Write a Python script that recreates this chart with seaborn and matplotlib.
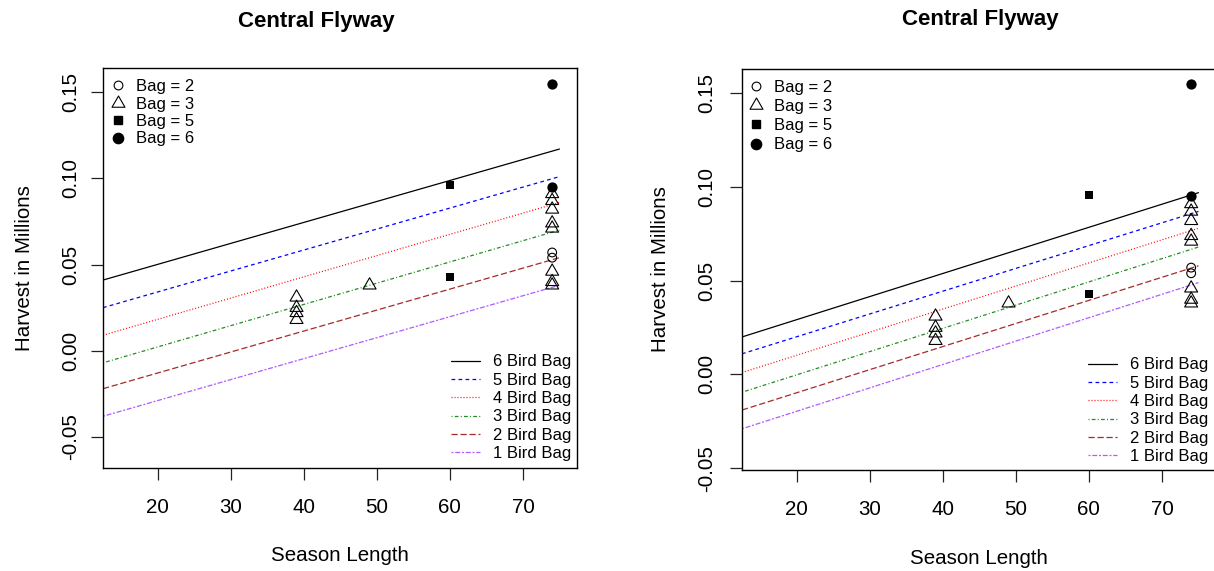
import numpy as np
import pandas as pd
import matplotlib
matplotlib.use("Agg")
import matplotlib.pyplot as plt
import seaborn as sns
from matplotlib.lines import Line2D
from matplotlib.path import Path

# ---------------- data ----------------
season_bag2 = [74, 74]
harvest_bag2 = [0.057, 0.054]
season_bag3 = [39, 39, 39, 39, 49, 74, 74, 74, 74, 74, 74, 74, 74]
harvest_bag3 = [0.031, 0.025, 0.022, 0.018, 0.038, 0.091, 0.087, 0.082,
                0.074, 0.071, 0.046, 0.040, 0.038]
season_bag5 = [60, 60]
harvest_bag5 = [0.096, 0.043]
season_bag6 = [74, 74]
harvest_bag6 = [0.155, 0.095]
point_labels = ["Bag = 2", "Bag = 3", "Bag = 5", "Bag = 6"]

line_labels = ["6 Bird Bag", "5 Bird Bag", "4 Bird Bag",
               "3 Bird Bag", "2 Bird Bag", "1 Bird Bag"]
line_season = [12.5, 75]
left_start = [0.041, 0.025, 0.009, -0.007, -0.022, -0.038]
left_end = [0.117, 0.101, 0.086, 0.070, 0.054, 0.038]
right_start = [0.020, 0.011, 0.001, -0.0095, -0.019, -0.029]
right_end = [0.097, 0.087, 0.078, 0.068, 0.058, 0.049]

x_ticks = [20, 30, 40, 50, 60, 70]
y_ticks = [-0.05, 0.00, 0.05, 0.10, 0.15]
y_tick_labels = ["-0.05", "0.00", "0.05", "0.10", "0.15"]

# ---------------- style ----------------
sns.set_style("ticks")
plt.rcParams["font.family"] = ["Liberation Sans", "DejaVu Sans"]
plt.rcParams["text.color"] = "black"
plt.rcParams["axes.labelcolor"] = "black"
plt.rcParams["xtick.color"] = "black"
plt.rcParams["ytick.color"] = "black"
plt.rcParams["xtick.labelcolor"] = "black"
plt.rcParams["ytick.labelcolor"] = "black"
plt.rcParams["legend.labelcolor"] = "black"

line_colors = ["black", "blue", "red", "#228B22", "#A52A2A", "#B05CFF"]
line_styles = ["-", (0, (3.0, 2.6)), (0, (0.8, 1.6)), (0, (0.8, 1.8, 3.0, 1.8)),
               (0, (5.0, 2.2)), (0, (1.6, 1.4, 4.0, 1.4))]

W, H = 1214, 571
fig = plt.figure(figsize=(W / 100, H / 100), dpi=100)


def ax_rect(l, t, r, b):
    return [l / W, (H - b) / H, (r - l) / W, (b - t) / H]


tri = Path([(-1, -0.577), (1, -0.577), (0, 1.155), (-1, -0.577)],
           [Path.MOVETO, Path.LINETO, Path.LINETO, Path.CLOSEPOLY])


def draw_panel(ax, starts, ends, ylim, ytick_pad, title_x, title_y,
               ylabel_x, xlab_top, ptleg, lnleg):
    for lab, col, ls, s0, s1 in zip(line_labels, line_colors, line_styles, starts, ends):
        sns.lineplot(x=line_season, y=[s0, s1], color=col, linewidth=0.9,
                     ax=ax, label=lab, legend=False)
        ax.lines[-1].set_linestyle(ls)

    sns.scatterplot(x=season_bag2, y=harvest_bag2, marker="o", s=6.3 ** 2,
                    facecolors="none", edgecolors="black", linewidths=0.8, ax=ax, zorder=3)
    sns.scatterplot(x=season_bag3, y=harvest_bag3, marker=tri, s=10.8 ** 2,
                    facecolors="none", edgecolors="black", linewidths=0.8, ax=ax, zorder=3)
    sns.scatterplot(x=season_bag5, y=harvest_bag5, marker="s", s=6.3 ** 2,
                    color="black", edgecolor="black", linewidth=0, ax=ax, zorder=3)
    sns.scatterplot(x=season_bag6, y=harvest_bag6, marker="o", s=7.4 ** 2,
                    color="black", edgecolor="black", linewidth=0, ax=ax, zorder=3)

    ax.set_xlim(12.5, 77.4)
    ax.set_ylim(*ylim)
    ax.set_xticks(x_ticks)
    ax.set_yticks(y_ticks)
    ax.set_yticklabels(y_tick_labels)
    ax.tick_params(axis="both", length=8.5, width=0.9, color="#222222",
                   labelcolor="black", labelsize=14.8, direction="out")
    ax.tick_params(axis="x", pad=13)
    ax.tick_params(axis="y", pad=ytick_pad)
    plt.setp(ax.get_yticklabels(), rotation=90, va="center")
    for sp in ax.spines.values():
        sp.set_visible(True)
        sp.set_color("black")
        sp.set_linewidth(1.0)

    ax.set_xlabel("Season Length", fontsize=14.8, color="black")
    ax.set_ylabel("Harvest in Millions", fontsize=14.8, color="black")
    bb = ax.get_position()
    ax.xaxis.set_label_coords(bb.x0 + bb.width / 2, (H - xlab_top) / H,
                              transform=fig.transFigure)
    ax.xaxis.label.set_va("top")
    ax.yaxis.set_label_coords(ylabel_x / W, bb.y0 + bb.height / 2,
                              transform=fig.transFigure)
    ax.yaxis.label.set_va("center")

    fig.text(title_x / W, (H - title_y) / H, "Central Flyway", fontsize=16,
             fontweight="bold", ha="center", va="center", color="black")

    pt_handles = [
        Line2D([], [], linestyle="none", marker="o", markersize=6.3, markerfacecolor="none",
               markeredgecolor="black", markeredgewidth=0.8),
        Line2D([], [], linestyle="none", marker=tri, markersize=10.8, markerfacecolor="none",
               markeredgecolor="black", markeredgewidth=0.8),
        Line2D([], [], linestyle="none", marker="s", markersize=6.3, color="black"),
        Line2D([], [], linestyle="none", marker="o", markersize=7.4, color="black"),
    ]
    leg1 = ax.legend(pt_handles, point_labels, loc="upper left",
                     bbox_to_anchor=(ptleg[0] / W, (H - ptleg[1]) / H),
                     bbox_transform=fig.transFigure, frameon=False, fontsize=12,
                     handlelength=1.0, handletextpad=0.55, labelspacing=ptleg[2],
                     borderpad=0, borderaxespad=0, labelcolor="black")
    ax.add_artist(leg1)
    ln_handles = ax.lines[:6]
    ax.legend(ln_handles, line_labels, loc="lower right",
              bbox_to_anchor=(lnleg[0] / W, (H - lnleg[1]) / H),
              bbox_transform=fig.transFigure, frameon=False, fontsize=12,
              handlelength=1.75, handletextpad=0.75, labelspacing=lnleg[2],
              borderpad=0, borderaxespad=0, labelcolor="black")


ax1 = fig.add_axes(ax_rect(103, 68, 577, 468))
ax2 = fig.add_axes(ax_rect(742, 69, 1216, 470))

draw_panel(ax1, left_start, left_end, (-0.068, 0.164), 8, 316, 22, 25, 546,
           (110, 79, 0.15), (571, 461, 0.2))
draw_panel(ax2, right_start, right_end, (-0.051, 0.163), 10, 980, 20, 661, 549,
           (748, 80, 0.25), (1208, 464, 0.2))

fig.savefig("out.png", dpi=100)
